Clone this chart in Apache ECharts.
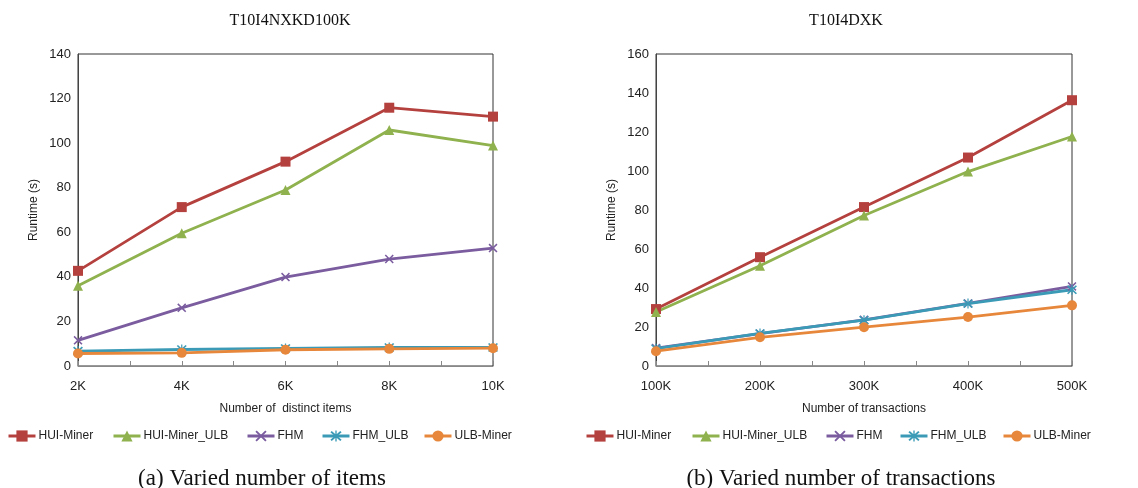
<!DOCTYPE html>
<html>
<head>
<meta charset="utf-8">
<script src="https://cdn.jsdelivr.net/npm/echarts@6/dist/echarts.min.js"></script>
<style>
  html, body { margin: 0; padding: 0; background: #fff; }
  #main { width: 1138px; height: 488px; }
</style>
</head>
<body>
<div id="main"></div>
<script>
// Runtime experiments on two synthetic datasets
const seriesNames = ['HUI-Miner', 'HUI-Miner_ULB', 'FHM', 'FHM_ULB', 'ULB-Miner'];

// (a) varying number of distinct items, in thousands
const itemsK = [2, 4, 6, 8, 10];
const itemsHUIMiner    = [42.7, 71.3, 91.7, 115.9, 111.9];
const itemsHUIMinerULB = [36.0, 59.6, 79.0, 105.9, 98.9];
const itemsFHM         = [11.5, 26.1, 39.9, 48.0, 52.9];
const itemsFHMULB      = [6.7, 7.4, 7.9, 8.3, 8.3];
const itemsULBMiner    = [5.6, 5.9, 7.3, 7.7, 8.0];

// (b) varying number of transactions, in thousands
const transK = [100, 200, 300, 400, 500];
const transHUIMiner    = [29.2, 55.8, 81.5, 106.9, 136.3];
const transHUIMinerULB = [27.7, 51.4, 77.2, 99.7, 117.7];
const transFHM         = [9.2, 16.6, 23.7, 32.1, 40.8];
const transFHMULB      = [8.9, 16.7, 23.5, 32.0, 39.1];
const transULBMiner    = [7.6, 14.7, 19.9, 25.1, 31.1];

// axis ranges
const itemsXRange = [2, 10, 1];      // min, max, tick step
const itemsYRange = [0, 140, 20];
const transXRange = [100, 500, 50];
const transYRange = [0, 160, 20];

const chartTitles = ['T10I4NXKD100K', 'T10I4DXK'];
const xAxisNames = ['Number of  distinct items', 'Number of transactions'];
const captions = ['(a) Varied number of items', '(b) Varied number of transactions'];

const colors = ['#b5413e', '#8fb14e', '#7a5c9f', '#3b9bb7', '#e7873b'];
const xPath = 'path://M0,1.2L1.2,0L5,3.8L8.8,0L10,1.2L6.2,5L10,8.8L8.8,10L5,6.2L1.2,10L0,8.8L3.8,5Z';
const starPath = 'path://M0,1.2L1.2,0L5,3.8L8.8,0L10,1.2L6.2,5L10,8.8L8.8,10L5,6.2L1.2,10L0,8.8L3.8,5Z' +
                 'M4.4,-0.6L5.6,-0.6L5.6,10.6L4.4,10.6Z';
const symbols = ['rect', 'triangle', xPath, starPath, 'circle'];
const symbolSizes = [10, 10, 9, 10, 10];

const labelFont = 'Liberation Sans';
const grids = [
  { left: 78, top: 54, width: 415, height: 312 },
  { left: 656, top: 54, width: 416, height: 312 }
];

function zip(xs, ys) { return xs.map((x, i) => [x, ys[i]]); }

function makeXAxis(idx, range, step) {
  return {
    type: 'value', gridIndex: idx,
    min: range[0], max: range[1], interval: range[2],
    name: xAxisNames[idx], nameLocation: 'middle', nameGap: 37,
    nameTextStyle: { fontFamily: labelFont, fontSize: 12, color: '#222' },
    axisLine: { show: true, lineStyle: { color: '#888', width: 1 } },
    axisTick: { show: true, inside: true, length: 5, lineStyle: { color: '#888' } },
    splitLine: { show: false },
    axisLabel: {
      fontFamily: labelFont, fontSize: 13, color: '#222', margin: 14,
      formatter: v => (Math.round(v - range[0]) % step === 0 ? v + 'K' : '')
    }
  };
}

function makeYAxis(idx, range) {
  return {
    type: 'value', gridIndex: idx,
    min: range[0], max: range[1], interval: range[2],
    name: 'Runtime (s)', nameLocation: 'middle', nameGap: 38, nameRotate: 90,
    nameTextStyle: { fontFamily: labelFont, fontSize: 12, color: '#222' },
    axisLine: { show: true, lineStyle: { color: '#444', width: 1 } },
    axisTick: { show: false },
    splitLine: { show: false },
    axisLabel: { fontFamily: labelFont, fontSize: 13, color: '#222', margin: 7 }
  };
}

const itemsData = [itemsHUIMiner, itemsHUIMinerULB, itemsFHM, itemsFHMULB, itemsULBMiner];
const transData = [transHUIMiner, transHUIMinerULB, transFHM, transFHMULB, transULBMiner];

const series = [];
[[itemsK, itemsData], [transK, transData]].forEach(([xs, sets], g) => {
  sets.forEach((ys, i) => {
    series.push({
      name: seriesNames[i], type: 'line',
      xAxisIndex: g, yAxisIndex: g,
      data: zip(xs, ys),
      symbol: symbols[i], symbolSize: symbolSizes[i],
      showAllSymbol: true,
      lineStyle: { color: colors[i], width: 2.8 },
      itemStyle: { color: colors[i] },
      emphasis: { disabled: true },
      animation: false
    });
  });
});

// one legend entry per component so each sits at its own position
const legendLefts = [[7, 112, 246, 321, 423], [585, 691, 825, 899, 1002]];
const legends = [];
legendLefts.forEach(lefts => {
  lefts.forEach((lx, i) => {
    legends.push({
      data: [seriesNames[i]], left: lx, top: 430,
      itemWidth: 27, itemHeight: 14, itemGap: 3,
      selectedMode: false,
      lineStyle: { width: 3 },
      textStyle: { fontFamily: labelFont, fontSize: 12, color: '#222', padding: [0, 0, 0, -2] },
      padding: 0
    });
  });
});

const option = {
  backgroundColor: '#fff',
  animation: false,
  color: colors,
  title: [
    { text: chartTitles[0], left: 285, top: 8, textAlign: 'center',
      textStyle: { fontFamily: 'Liberation Serif', fontSize: 16, fontWeight: 'normal', color: '#111' } },
    { text: chartTitles[1], left: 841, top: 8, textAlign: 'center',
      textStyle: { fontFamily: 'Liberation Serif', fontSize: 16, fontWeight: 'normal', color: '#111' } }
  ],
  grid: grids.map(g => Object.assign({ show: true, borderColor: '#333', borderWidth: 1, backgroundColor: 'transparent' }, g)),
  xAxis: [makeXAxis(0, itemsXRange, 2), makeXAxis(1, transXRange, 100)],
  yAxis: [makeYAxis(0, itemsYRange), makeYAxis(1, transYRange)],
  legend: legends,
  series: series,
  graphic: [
    { type: 'text', x: 262, y: 479,
      style: { text: captions[0], font: '23px "Liberation Serif"', fill: '#111',
               textAlign: 'center', textVerticalAlign: 'middle' } },
    { type: 'text', x: 841, y: 479,
      style: { text: captions[1], font: '23px "Liberation Serif"', fill: '#111',
               textAlign: 'center', textVerticalAlign: 'middle' } }
  ]
};

const chart = echarts.init(document.getElementById('main'), null, { renderer: 'canvas' });
chart.setOption(option);
</script>
</body>
</html>
